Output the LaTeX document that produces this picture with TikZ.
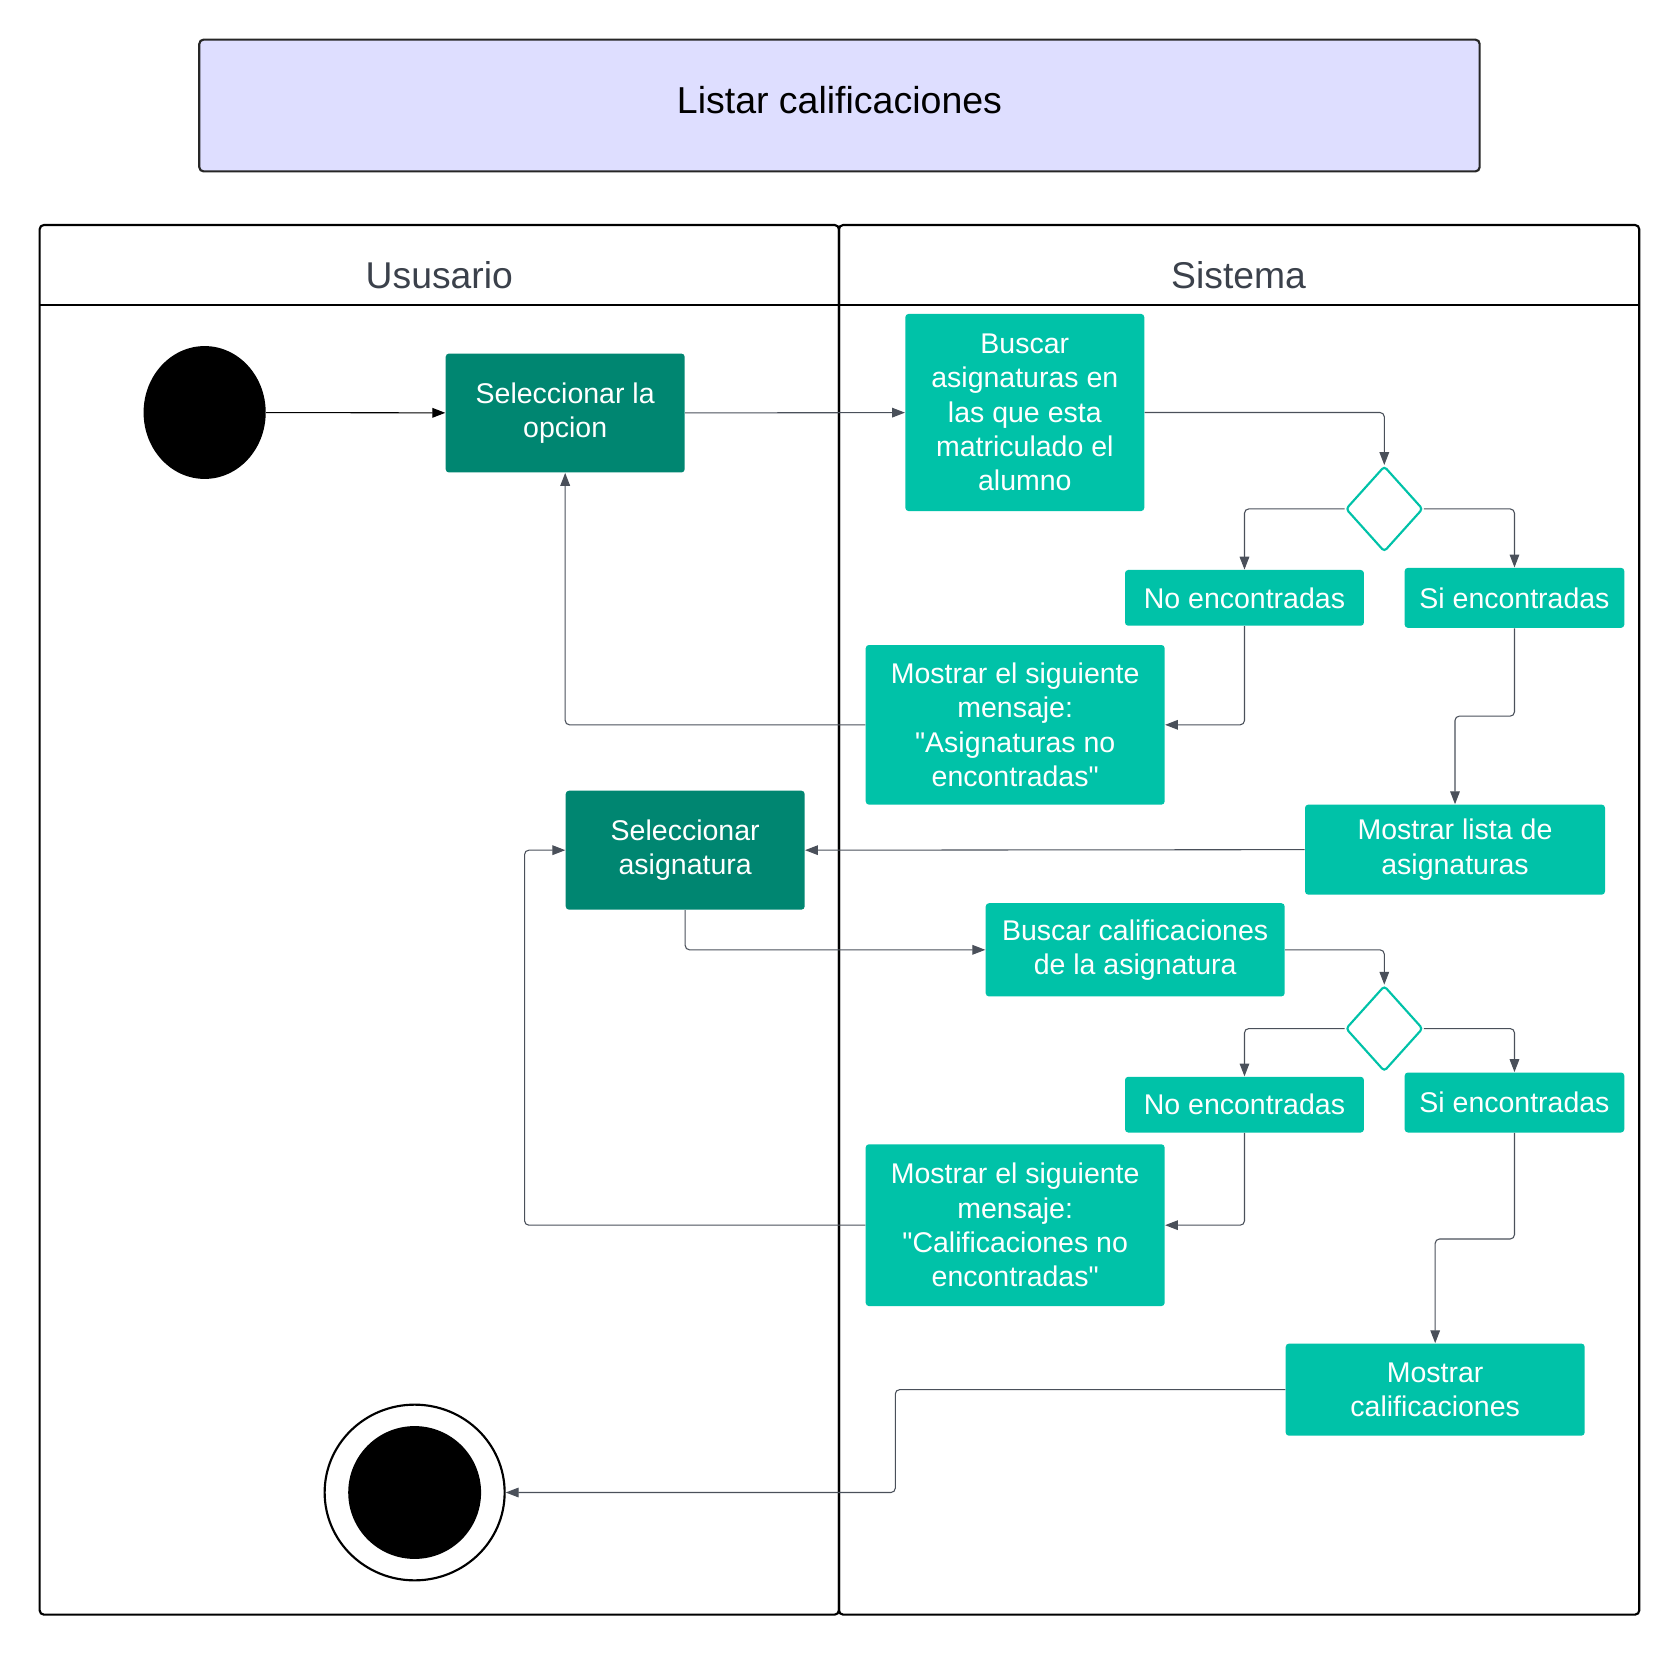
\documentclass[tikz,border=0pt]{standalone}
\usepackage{fontspec}
\setmainfont{Liberation Sans}
\usepackage{xcolor}
\usepackage{tikz}
\usetikzlibrary{arrows.meta}
\usetikzlibrary{shapes}
\usetikzlibrary{positioning}

\definecolor{tealdark}{HTML}{008671}
\definecolor{teallight}{HTML}{00C2A8}
\definecolor{lavender}{HTML}{DEDEFF}
\definecolor{linegray}{HTML}{4A505A}
\definecolor{headgray}{HTML}{3B414B}

\begin{document}
\begin{tikzpicture}[x=0.5pt,y=-0.5pt,
    act/.style={rectangle,rounded corners=1.5pt,text=white,align=center,inner sep=0pt,
      font=\fontsize{13.3}{16}\selectfont},
    userbox/.style={act,fill=tealdark},
    sysbox/.style={act,fill=teallight},
    decision/.style={diamond,draw=teallight,line width=1pt,fill=white,rounded corners=1.5pt,
      minimum width=36pt,minimum height=40pt,inner sep=0pt},
    flow/.style={draw=linegray,line width=0.5pt,rounded corners=2pt,
      -{Triangle[length=6pt,width=4.5pt]}}]
  \useasboundingbox (0,0) rectangle (1568,1545);

  % titulo
  \node[draw=black!85,line width=1pt,fill=lavender,rounded corners=2pt,
    minimum width=597.5pt,minimum height=61.5pt,text depth=5.5pt,font=\fontsize{17.5}{21}\selectfont]
    (titulo) at (783.5,98.5) {Listar calificaciones};

  % carriles
  \draw[line width=1pt,rounded corners=2pt] (37,210) rectangle (783,1507);
  \draw[line width=1pt,rounded corners=2pt] (783,210) rectangle (1530,1507);
  \draw[line width=1pt] (37,285) -- (1530,285);
  \begin{scope}[every node/.style={text=headgray,font=\fontsize{17.4}{21}\selectfont}]
    \node (usuario) at (410,257) {Ususario};
    \node (sistema) at (1156,257) {Sistema};
  \end{scope}

  % inicio y fin
  \node[ellipse,fill=black,minimum width=57pt,minimum height=62pt,inner sep=0pt] (inicio) at (191,385) {};
  \node[ellipse,draw=black,line width=1pt,minimum width=84pt,minimum height=82pt,inner sep=0pt] (fin) at (387,1393) {};
  \node[ellipse,fill=black,minimum width=62pt,minimum height=62pt,inner sep=0pt] (finin) at (387,1393) {};

  % actividades
  \node[userbox,minimum width=111.5pt,minimum height=55.5pt] (selop) at (527.5,385.5) {Seleccionar la\\opcion};
  \node[sysbox,minimum width=111.5pt,minimum height=92pt] (buscar) at (956.5,385) {Buscar\\asignaturas en\\las que esta\\matriculado el\\alumno};
  \node[decision] (dec1) at (1292,475) {};
  \node[sysbox,minimum width=111.5pt,minimum height=26pt] (no1) at (1161.5,558) {No encontradas};
  \node[sysbox,minimum width=102.5pt,minimum height=28pt] (si1) at (1413.5,558) {Si encontradas};
  \node[sysbox,minimum width=139.5pt,minimum height=74.5pt] (msg1) at (947.5,676.5) {Mostrar el siguiente\\mensaje:\\\textquotedbl Asignaturas no\\encontradas\textquotedbl};
  \node[userbox,minimum width=111.5pt,minimum height=55.5pt] (selasig) at (639.5,793.5) {Seleccionar\\asignatura};
  \node[sysbox,minimum width=140pt,minimum height=42pt] (lista) at (1358,793) {Mostrar lista de\\asignaturas};
  \node[sysbox,minimum width=139.5pt,minimum height=43.5pt] (bcal) at (1059.5,886.5) {Buscar calificaciones\\de la asignatura};
  \node[decision] (dec2) at (1292,960) {};
  \node[sysbox,minimum width=111.5pt,minimum height=26pt] (no2) at (1161.5,1031) {No encontradas};
  \node[sysbox,minimum width=102.5pt,minimum height=28pt] (si2) at (1413.5,1029) {Si encontradas};
  \node[sysbox,minimum width=139.5pt,minimum height=75.5pt] (msg2) at (947.5,1143.5) {Mostrar el siguiente\\mensaje:\\\textquotedbl Calificaciones no\\encontradas\textquotedbl};
  \node[sysbox,minimum width=139.5pt,minimum height=43pt] (mcal) at (1339.5,1297) {Mostrar\\calificaciones};

  % flujo
  \draw[flow,draw=black] (inicio) -- (selop);
  \draw[flow] (selop) -- (buscar);
  \draw[flow] (buscar.east) -| (dec1.north);
  \draw[flow] (dec1.west) -| (no1.north);
  \draw[flow] (dec1.east) -| (si1.north);
  \draw[flow] (no1.south) |- (msg1.east);
  \draw[flow] (msg1.west) -| (selop.south);
  \draw[flow] (si1.south) -- ++(0,82) -| (lista.north);
  \draw[flow] (lista.west) -- (selasig.east);
  \draw[flow] (selasig.south) |- (bcal.west);
  \draw[flow] (bcal.east) -| (dec2.north);
  \draw[flow] (dec2.west) -| (no2.north);
  \draw[flow] (dec2.east) -| (si2.north);
  \draw[flow] (no2.south) |- (msg2.east);
  \draw[flow] (msg2.west) -- ++(-318,0) |- (selasig.west);
  \draw[flow] (si2.south) -- ++(0,99) -| (mcal.north);
  \draw[flow] (mcal.west) -- ++(-364,0) |- (fin.east);
\end{tikzpicture}
\end{document}
